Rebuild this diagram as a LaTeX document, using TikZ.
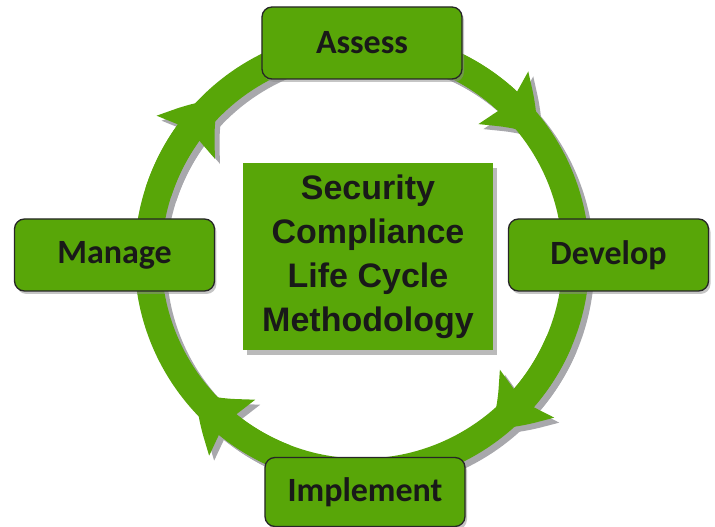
\documentclass[tikz,border=0pt]{standalone}
\usepackage{fontspec}
\setmainfont{Liberation Sans}
\newfontfamily\stagefont{Carlito}
\usetikzlibrary{arrows.meta,bending,shadows}
\definecolor{cyclegreen}{RGB}{88,166,8}
\definecolor{cycleshade}{RGB}{168,168,172}

\begin{document}
\begin{tikzpicture}[x=1pt,y=1pt,
    ring/.style={line width=27pt},
    ringhead/.style={line width=27pt,-{Stealth[length=50pt,width=70pt,inset=8pt,bend]}},
    stagebox/.style={draw=black!85,line width=1.3pt,fill=cyclegreen,rounded corners=10pt,
      minimum width=200pt,minimum height=72pt,text=black!90,
      font=\stagefont\bfseries\fontsize{34}{40}\selectfont,
      drop shadow={shadow xshift=2pt,shadow yshift=-3pt,fill=black!45,opacity=.5}},
    centrebox/.style={fill=cyclegreen,minimum width=250pt,minimum height=187pt,
      align=center,text=black!90,font=\bfseries\fontsize{34}{44}\selectfont,
      drop shadow={shadow xshift=4pt,shadow yshift=-5pt,fill=black!45,opacity=.6}}]
    \useasboundingbox (-362,-269) rectangle (353,258);
    \coordinate (hub) at (0,0);
    % ring: grey copy first, green on top
    \foreach \col/\dx/\dy in {cycleshade/5/-5,cyclegreen/0/0}{
      \draw[ring,\col] ([shift={(\dx,\dy)}]hub) circle[radius=214];
      \foreach \tip in {35,-53,-141,132}
        \draw[ringhead,\col] ([shift={(\dx,\dy)}]hub) ++(\tip+30:214) arc[start angle=\tip+30,end angle=\tip,radius=214];
    }
    \node[centrebox] (method) at (6,1.5) {Security\\Compliance\\Life Cycle\\Methodology};
    \node[stagebox] (assess) at (0,215) {Assess};
    \node[stagebox] (develop) at (246.5,3) {Develop};
    \node[stagebox,minimum height=69pt] (implement) at (3,-234) {Implement};
    \node[stagebox] (manage) at (-247.5,3) {Manage};
\end{tikzpicture}
\end{document}
